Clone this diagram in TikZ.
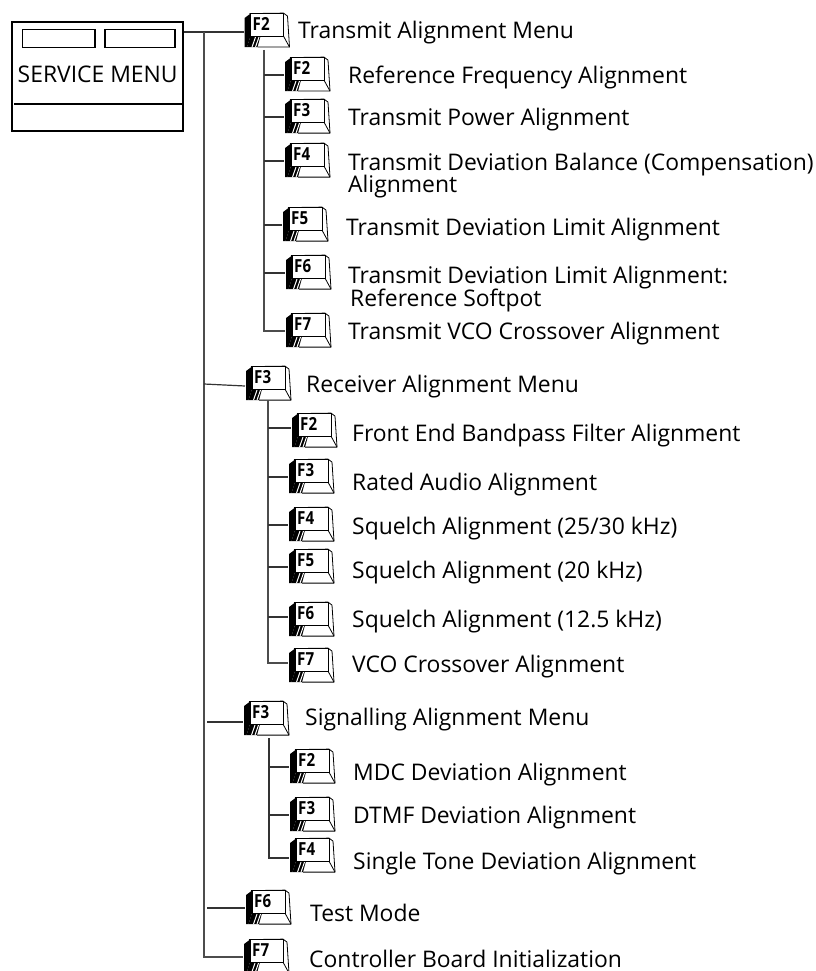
\documentclass[tikz,border=0pt]{standalone}
\usepackage{fontspec}
\setmainfont{Open Sans}
\newfontfamily\keyfont[FakeStretch=0.84]{Open Sans}
\usepackage{xcolor}
\usetikzlibrary{positioning}
\newcommand{\keyface}{%
    \fill[black] (0,5) -- (6,0.5) -- (6,23) -- (2.5,34) -- (0,34) -- cycle;
    \fill[black] (6,23) -- (16,23) -- (13,34) -- (2.5,34) -- cycle;
    \draw[white, line width=1pt] (11,24) -- (7.5,34) (14.5,24) -- (11,34) (18,24) -- (14.5,34);
    \draw[black, line width=0.8pt, line join=round] (5,0.5) -- (39,0) -- (43,3) -- (45,34) -- (13,34);
    \draw[black, line width=0.8pt] (6,23) rectangle (39,0.5);
    \draw[black, line width=0.8pt] (39,23) -- (45,34);
}
\tikzset{
    fkey/.style={anchor=west, minimum width=47pt, minimum height=37pt, text width=29pt,
        inner xsep=9pt, inner ysep=2.5pt, text height=15.5pt, text depth=16.5pt, align=left,
        font=\keyfont\fontsize{18}{18}\selectfont\bfseries,
        append after command={\pgfextra{\begin{scope}[shift={(\tikzlastnode.north west)}, shift={(1pt,-0.8pt)}, x=1pt, y=-1pt]\keyface\end{scope}}}},
    caption/.style={anchor=base west, inner sep=0pt, align=left, font=\fontsize{22.9}{24}\selectfont},
    softkey/.style={draw, line width=1.1pt, inner sep=0pt},
    wire/.style={draw=black!80, line width=1.2pt},
    trunk/.style={draw=black!70, line width=1.5pt}
}

\begin{document}
\begin{tikzpicture}[x=1pt, y=-1pt]
\useasboundingbox (0,0) rectangle (815,971);

% --- Service menu box ---
\node[softkey, minimum width=171pt, minimum height=109pt] (menu) at (97.5,76.5) {};
\node[softkey, minimum width=72.5pt, minimum height=18.5pt] (softa) at (58.7,38.7) {};
\node[softkey, minimum width=70pt, minimum height=18.5pt] (softb) at (140,38.7) {};
\node[caption] (menutext) at (17.5,83) {SERVICE MENU};
\coordinate (sepa) at (14,104);
\draw[softkey] (sepa) -- (sepa -| menu.east);

% --- Top level keys ---
\node[fkey] (k2) at (243.5,31) {F2};
\node[fkey] (k3) at (245,384) {F3};
\node[fkey] (k4) at (243,719) {F3};
\node[fkey] (k6) at (245,908) {F6};
\node[fkey] (k7) at (243,957) {F7};

% --- Transmit keys ---
\node[fkey] (t2) at (284,75) {F2};
\node[fkey] (t3) at (284,117) {F3};
\node[fkey] (t4) at (284,161) {F4};
\node[fkey] (t5) at (282,225) {F5};
\node[fkey] (t6) at (285,273) {F6};
\node[fkey] (t7) at (285,331) {F7};

% --- Receiver keys ---
\node[fkey] (r2) at (291,431) {F2};
\node[fkey] (r3) at (288,477) {F3};
\node[fkey] (r4) at (288,525) {F4};
\node[fkey] (r5) at (288,567) {F5};
\node[fkey] (r6) at (288,620) {F6};
\node[fkey] (r7) at (288,666) {F7};

% --- Signalling keys ---
\node[fkey] (s2) at (289,767) {F2};
\node[fkey] (s3) at (289,815) {F3};
\node[fkey] (s4) at (289,856) {F4};

% --- Captions ---
\node[caption] (k2text) at (298,39) {Transmit Alignment Menu};
\node[caption] (t2text) at (348,84) {Reference Frequency Alignment};
\node[caption] (t3text) at (348,125) {Transmit Power Alignment};
\node[caption] (t4text) at (348,170) {Transmit Deviation Balance (Compensation)};
\node[caption] (t4more) at (348,192) {Alignment};
\node[caption] (t5text) at (346,235) {Transmit Deviation Limit Alignment};
\node[caption] (t6text) at (348,283) {Transmit Deviation Limit Alignment:};
\node[caption] (t6more) at (350,306) {Reference Softpot};
\node[caption] (t7text) at (348,339) {Transmit VCO Crossover Alignment};
\node[caption] (k3text) at (306,392) {Receiver Alignment Menu};
\node[caption] (r2text) at (352,441) {Front End Bandpass Filter Alignment};
\node[caption] (r3text) at (352,490) {Rated Audio Alignment};
\node[caption] (r4text) at (352,534) {Squelch Alignment (25/30 kHz)};
\node[caption] (r5text) at (352,578) {Squelch Alignment (20 kHz)};
\node[caption] (r6text) at (352,627) {Squelch Alignment (12.5 kHz)};
\node[caption] (r7text) at (352,672) {VCO Crossover Alignment};
\node[caption] (k4text) at (305,725) {Signalling Alignment Menu};
\node[caption] (s2text) at (353,780) {MDC Deviation Alignment};
\node[caption] (s3text) at (353,823) {DTMF Deviation Alignment};
\node[caption] (s4text) at (353,869) {Single Tone Deviation Alignment};
\node[caption] (k6text) at (310,921) {Test Mode};
\node[caption] (k7text) at (309,967.5) {Controller Board Initialization};

% --- Main trunk ---
\coordinate (rowa) at (204,32);
\coordinate (rowb) at (207,722);
\coordinate (rowc) at (207,908);
\draw[wire] (menu.east |- rowa) -- (k2.west |- rowa);
\draw[trunk] (rowa) |- (k7);
\draw[wire] (rowa |- k3) -- ([yshift=-2pt]k3.west);
\draw[wire] (rowb) -- (k4.west |- rowb);
\draw[wire] (rowc) -- (k6);

% --- Transmit branch ---
\coordinate (tbus) at (264,50);
\draw[trunk] (tbus) |- (t7);
\draw[wire] (tbus |- t2) -- (t2);
\draw[wire] (tbus |- t3) -- (t3);
\draw[wire] (tbus |- t4) -- (t4);
\draw[wire] (tbus |- t5) -- (t5);
\draw[wire] (tbus |- t6) -- (t6);

% --- Receiver branch ---
\coordinate (rbus) at (268,400);
\draw[trunk] (rbus) |- ([yshift=3pt]r7.west);
\draw[wire] ([yshift=3pt]r2.west -| rbus) -- ([yshift=3pt]r2.west);
\draw[wire] (rbus |- r3) -- (r3);
\draw[wire] (rbus |- r4) -- (r4);
\draw[wire] (rbus |- r5) -- (r5);
\draw[wire] ([yshift=3pt]r6.west -| rbus) -- ([yshift=3pt]r6.west);

% --- Signalling branch ---
\coordinate (sbus) at (269,738);
\draw[wire] (sbus) |- ([yshift=-2pt]s4.west);
\draw[wire] (sbus |- s2) -- (s2);
\draw[wire] (sbus |- s3) -- (s3);

\end{tikzpicture}
\end{document}
